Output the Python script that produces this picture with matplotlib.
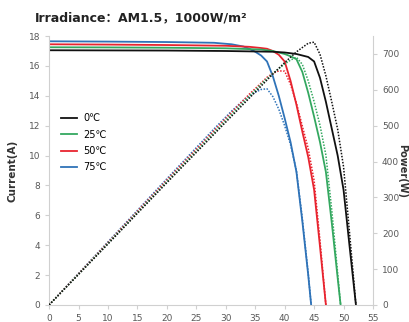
import matplotlib.pyplot as plt

plt.rcParams['font.family'] = ['DejaVu Sans', 'Noto Sans CJK SC']

labels = ["0℃", "25℃", "50℃", "75℃"]
colors = ["#111111", "#34a860", "#e8242f", "#2f73b8"]

# I-V data (voltage V, current A)
v_0 = [0, 10, 20, 30, 38, 40, 41, 42, 43, 44, 45, 46, 47, 48, 49, 50, 51, 52.1]
i_0 = [17.05, 17.04, 17.03, 17.0, 16.95, 16.9, 16.85, 16.8, 16.7, 16.6, 16.3, 15.2, 13.6, 11.8, 10.0, 7.7, 4.0, 0]
v_25 = [0, 10, 20, 30, 36, 38, 39, 40, 41, 42, 43, 44, 45, 46, 47, 48, 49, 49.5]
i_25 = [17.25, 17.24, 17.22, 17.18, 17.1, 17.0, 16.9, 16.8, 16.65, 16.45, 15.6, 14.2, 12.6, 10.9, 8.9, 5.5, 1.8, 0]
v_50 = [0, 10, 20, 30, 34, 36, 37, 38, 39, 40, 41, 42, 43, 44, 45, 46, 47]
i_50 = [17.45, 17.43, 17.4, 17.35, 17.28, 17.2, 17.15, 17.0, 16.75, 16.3, 15.0, 13.4, 11.6, 9.9, 7.7, 3.9, 0]
v_75 = [0, 10, 20, 28, 31, 33, 34, 35, 36, 37, 38, 39, 40, 41, 42, 43, 44, 44.5]
i_75 = [17.65, 17.63, 17.6, 17.55, 17.45, 17.3, 17.15, 16.95, 16.7, 16.3, 15.3, 14.0, 12.5, 10.9, 8.9, 5.6, 2.0, 0]

# P-V data (power W) at the same voltages
p_0 = [0, 170, 341, 510, 644, 676, 691, 706, 718, 730, 733, 699, 639, 566, 490, 385, 204, 0]
p_25 = [0, 172, 344, 515, 616, 646, 659, 672, 683, 691, 671, 625, 567, 501, 418, 264, 88, 0]
p_50 = [0, 174, 348, 520, 588, 619, 635, 646, 653, 652, 615, 563, 499, 436, 347, 179, 0]
p_75 = [0, 176, 352, 491, 541, 571, 583, 593, 601, 603, 581, 546, 500, 447, 374, 241, 88, 0]

volts = [v_0, v_25, v_50, v_75]
currents = [i_0, i_25, i_50, i_75]
powers = [p_0, p_25, p_50, p_75]

fig = plt.figure(figsize=(4.09, 3.22), dpi=100)
ax1 = fig.add_axes([0.12, 0.053, 0.792, 0.835])
ax2 = ax1.twinx()

for v, p, c in zip(volts[::-1], powers[::-1], colors[::-1]):
    ax2.plot(v, p, color=c, linestyle=(0, (1, 1)), linewidth=1.1)

for v, i, c, lab in zip(volts[::-1], currents[::-1], colors[::-1], labels[::-1]):
    ax1.plot(v, i, color=c, linewidth=1.3, label=lab)

ax1.set_xlim(0, 55)
ax1.set_ylim(0, 18)
ax2.set_ylim(0, 750)
ax1.set_xticks(range(0, 56, 5))
ax1.set_yticks(range(0, 19, 2))
ax2.set_yticks(range(0, 701, 100))

spine_c = "#d0d0d0"
tick_c = "#595959"
for ax in (ax1, ax2):
    for s in ax.spines.values():
        s.set_color(spine_c)
    ax.spines["top"].set_visible(False)
    ax.tick_params(colors=spine_c, labelcolor=tick_c, labelsize=6.5, length=3, width=0.8)
ax1.spines["right"].set_visible(False)
ax2.spines["left"].set_visible(False)
ax2.spines["bottom"].set_visible(False)

ax1.set_ylabel("Current(A)", fontsize=7.5, fontweight="bold", color="#333333", labelpad=8)
# right label squeezed into the narrow margin
fig.text(0.984, 0.47, "Power(W)", fontsize=7, fontweight="bold", color="#333333",
         rotation=270, ha="center", va="center")

h, l = ax1.get_legend_handles_labels()
ax1.legend(h[::-1], l[::-1], loc="upper left", bbox_to_anchor=(0.01, 0.745), frameon=False,
           fontsize=7, handlelength=1.6, labelspacing=0.65, handletextpad=0.7)

fig.text(0.085, 0.945, "Irradiance：AM1.5，1000W/m²", fontsize=9, fontweight="bold",
         color="#222222", ha="left", va="center")

fig.savefig("out.png", dpi=100)
